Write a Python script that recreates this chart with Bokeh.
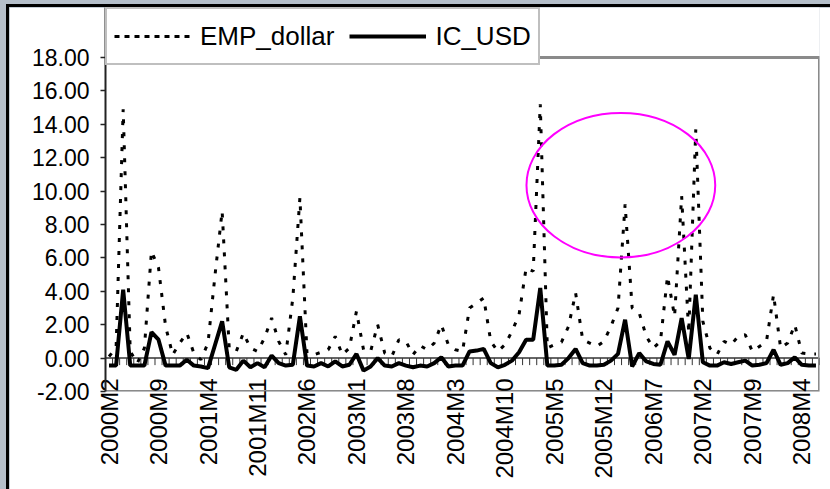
import math
from bokeh.plotting import figure
from bokeh.models import (Range1d, FixedTicker, PrintfTickFormatter, Span, Legend,
                          LegendItem, ColumnDataSource)
from bokeh.embed import file_html
from bokeh.resources import INLINE

# ---------------- data ----------------
START_YEAR, START_MONTH, N_MONTHS = 2000, 2, 101
MONTHS = [f"{START_YEAR + (START_MONTH - 1 + k) // 12}M{(START_MONTH - 1 + k) % 12 + 1}"
          for k in range(N_MONTHS)]

EMP_DOLLAR = [
    0.1, 0.6, 14.9, 0.4, -0.3, 0.6, 6.4, 5.4, 1.9, 0.2,
    0.9, 1.5, 0.3, -0.1, 0.9, 5.0, 8.8, 0.6, 0.4, 1.5,
    0.6, 0.4, 1.2, 2.4, 1.0, 0.2, 3.6, 9.6, 0.3, 0.2,
    0.35, 0.5, 1.3, 0.2, 0.6, 2.8, 0.5, 0.4, 2.0, 0.3,
    0.1, 1.1, 1.0, 0.2, 0.75, 0.5, 0.9, 2.0, 0.8, 0.5,
    0.4, 3.0, 3.3, 3.6, 1.0, 0.4, 0.8, 1.6, 2.6, 5.4,
    5.2, 15.2, 0.6, 0.8, 0.95, 1.9, 3.9, 1.1, 0.9, 0.7,
    1.0, 1.9, 3.0, 9.2, 3.0, 2.7, 1.3, 0.6, 1.0, 4.9,
    2.5, 9.7, 1.5, 13.7, 2.2, 0.6, 0.2, 1.0, 0.8, 1.3,
    1.4, 0.4, 0.7, 1.0, 3.8, 0.6, 0.9, 2.0, 0.3, 0.25,
    0.25,
]

IC_USD = [
    -0.45, -0.45, 4.1, -0.45, -0.45, -0.45, 1.55, 1.1, -0.45, -0.45,
    -0.45, -0.1, -0.45, -0.5, -0.6, 0.8, 2.2, -0.55, -0.7, -0.15,
    -0.55, -0.3, -0.55, 0.15, -0.3, -0.45, -0.4, 2.5, -0.45, -0.5,
    -0.3, -0.5, -0.2, -0.5, -0.4, 0.25, -0.75, -0.5, 0.0, -0.45,
    -0.5, -0.3, -0.45, -0.55, -0.45, -0.5, -0.3, 0.05, -0.5, -0.45,
    -0.45, 0.4, 0.45, 0.55, -0.3, -0.55, -0.4, -0.15, 0.35, 1.1,
    1.1, 4.2, -0.45, -0.45, -0.4, 0.0, 0.55, -0.3, -0.45, -0.45,
    -0.4, -0.15, 0.25, 2.3, -0.5, 0.3, -0.2, -0.35, -0.4, 1.0,
    0.2, 2.4, -0.05, 3.8, -0.25, -0.45, -0.45, -0.25, -0.35, -0.25,
    -0.15, -0.45, -0.4, -0.3, 0.5, -0.4, -0.3, 0.05, -0.4, -0.45,
    -0.45,
]

TICK_LABELS = ["2000M2", "2000M9", "2001M4", "2001M11", "2002M6", "2003M1", "2003M8",
               "2004M3", "2004M10", "2005M5", "2005M12", "2006M7", "2007M2", "2007M9",
               "2008M4"]
Y_TICKS = [-2, 0, 2, 4, 6, 8, 10, 12, 14, 16, 18]
Y_MIN, Y_MAX = -2, 18          # value axis of the plot area
Y_HEADROOM = 2.99              # space above the plot area that holds the legend

# highlight ellipse (annotation): centre in month index / value, size in months / value
ELLIPSE_X, ELLIPSE_Y, ELLIPSE_W, ELLIPSE_H = 72.4, 10.35, 26.7, 8.65

# ---------------- figure ----------------
FONT = "Liberation Sans"
x = list(range(len(MONTHS)))
tick_index = [MONTHS.index(t) for t in TICK_LABELS]
x_lo, x_hi = -0.5, len(MONTHS) - 0.5

p = figure(width=821, height=482,
           x_range=Range1d(x_lo, x_hi), y_range=Range1d(Y_MIN, Y_MAX + Y_HEADROOM),
           output_backend="svg", toolbar_location=None,
           min_border_left=96, min_border_right=11, min_border_top=0, min_border_bottom=98,
           background_fill_color="white", border_fill_color="white",
           outline_line_color=None)
p.grid.visible = False

# y axis
yax = p.yaxis[0]
yax.ticker = FixedTicker(ticks=Y_TICKS)
yax.formatter = PrintfTickFormatter(format="%.2f")
yax.major_label_text_font = FONT
yax.major_label_text_font_size = "23px"
yax.major_label_text_color = "black"
yax.major_tick_out = 5
yax.major_tick_in = 0
yax.minor_tick_out = 0
yax.minor_tick_in = 0
yax.axis_line_color = "#222222"
yax.axis_line_width = 2
yax.major_tick_line_color = "#222222"
yax.major_tick_line_width = 1.5
yax.major_label_standoff = 11

# x axis (labels only, at the bottom)
xax = p.xaxis[0]
xax.ticker = FixedTicker(ticks=tick_index)
xax.major_label_overrides = {i: lab for i, lab in zip(tick_index, TICK_LABELS)}
xax.major_label_orientation = math.pi / 2
xax.major_label_text_font = FONT
xax.major_label_text_font_size = "24px"
xax.major_label_text_color = "black"
xax.axis_line_color = None
xax.major_tick_line_color = None
xax.major_tick_out = 0
xax.major_tick_in = 0
xax.minor_tick_out = 0
xax.minor_tick_in = 0
xax.major_label_standoff = -13

# grey plot-area border (top at the value axis maximum, right, bottom)
p.line([x_lo, x_hi, x_hi, x_lo], [Y_MAX, Y_MAX, Y_MIN, Y_MIN],
       line_color="#8a8a8a", line_width=3)

# category axis crossing at zero with a tick at each category boundary
p.add_layout(Span(location=0, dimension="width", line_color="#333333", line_width=1.5,
                  level="underlay"))
bounds = [k - 0.5 for k in range(len(MONTHS) + 1)]
TICK_LEN = 0.42
p.segment(x0=bounds, y0=[0] * len(bounds), x1=bounds, y1=[-TICK_LEN] * len(bounds),
          line_color="#333333", line_width=1)

# series
p.line(x, EMP_DOLLAR, line_color="black", line_width=3, line_dash="4 9")
p.line(x, IC_USD, line_color="black", line_width=4)

# highlight ellipse
p.ellipse(x=[ELLIPSE_X], y=[ELLIPSE_Y], width=ELLIPSE_W, height=ELLIPSE_H,
          fill_color=None, line_color="#ff00ff", line_width=2)

# legend sample glyphs: one-vertex lines draw nothing in the plot, only in the legend
sample = ColumnDataSource(data=dict(x=[0], y=[0]))
leg_emp = p.line("x", "y", source=sample, line_color="black", line_width=3, line_dash="5 5")
leg_ic = p.line("x", "y", source=sample, line_color="black", line_width=4)
legend = Legend(items=[LegendItem(label="EMP_dollar", renderers=[leg_emp]),
                       LegendItem(label="IC_USD", renderers=[leg_ic])],
                orientation="horizontal", location="top_left",
                label_text_font=FONT, label_text_font_size="26px", label_text_color="black",
                glyph_width=77, glyph_height=40, label_height=40, label_standoff=9,
                spacing=15, padding=7, margin=0,
                border_line_color="#808080", border_line_width=2,
                background_fill_color="white", background_fill_alpha=1.0)
p.add_layout(legend)

html = file_html(p, INLINE, "EMP_dollar and IC_USD")
style = ("<style>html{overflow:hidden !important;}"
         "body{margin:7px 0 0 9px !important;"
         "background:linear-gradient(#000,#000) 6px 4px/3px 100% no-repeat,"
         "linear-gradient(#000,#000) 6px 4px/100% 3px no-repeat,#b5bfca !important;}</style>")
html = html.replace("</head>", style + "</head>", 1)
open("out.html", "w").write(html)
